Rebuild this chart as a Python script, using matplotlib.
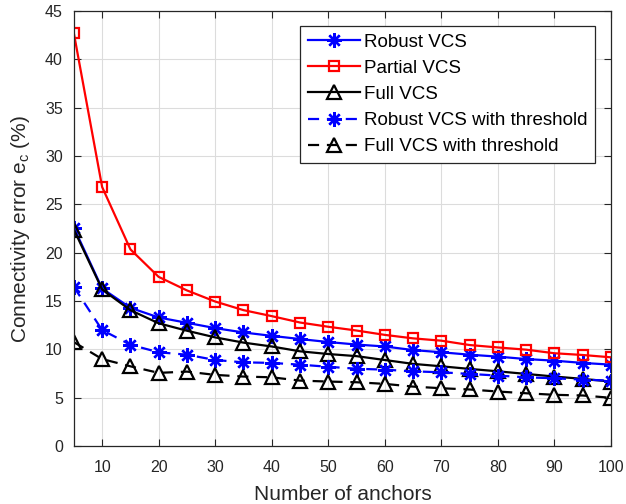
import matplotlib
matplotlib.use("Agg")
import matplotlib.pyplot as plt

plt.rcParams['font.family'] = ['Liberation Sans', 'DejaVu Sans']
plt.rcParams['mathtext.fontset'] = 'custom'
plt.rcParams['mathtext.rm'] = 'Liberation Sans'

# anchors on the x axis
anchors = [5, 10, 15, 20, 25, 30, 35, 40, 45, 50,
           55, 60, 65, 70, 75, 80, 85, 90, 95, 100]

# connectivity error in percent
robust = [22.6, 16.3, 14.3, 13.3, 12.75, 12.2, 11.75, 11.4, 11.07, 10.76,
          10.5, 10.3, 9.93, 9.7, 9.45, 9.25, 9.0, 8.83, 8.6, 8.42]
partial = [42.7, 26.8, 20.35, 17.5, 16.1, 14.95, 14.06, 13.44, 12.78, 12.34,
           11.95, 11.5, 11.14, 10.9, 10.45, 10.2, 9.97, 9.6, 9.42, 9.18]
full = [22.4, 16.2, 14.06, 12.7, 11.93, 11.24, 10.7, 10.3, 9.8, 9.52,
        9.3, 8.9, 8.5, 8.25, 7.98, 7.73, 7.46, 7.19, 6.95, 6.67]
robust_thr = [16.46, 12.0, 10.48, 9.7, 9.45, 8.9, 8.66, 8.6, 8.42, 8.2,
              8.0, 7.9, 7.73, 7.63, 7.46, 7.29, 7.11, 7.01, 6.87, 6.77]
full_thr = [10.75, 9.0, 8.25, 7.57, 7.7, 7.36, 7.19, 7.11, 6.77, 6.67,
            6.6, 6.43, 6.15, 5.98, 5.85, 5.64, 5.46, 5.3, 5.23, 4.99]

fig = plt.figure(figsize=(6.26, 5.04), dpi=100)
ax = fig.add_axes([0.118, 0.115, 0.858, 0.863])

asterisk = (8, 2, 0)
dash = (0, (5, 3.5))

ax.plot(anchors, robust, color='blue', lw=1.6, marker=asterisk, ms=10.5, mew=1.7,
        label='Robust VCS')
ax.plot(anchors, partial, color='red', lw=1.6, marker='s', ms=7.5, mew=1.6,
        mfc='none', label='Partial VCS')
ax.plot(anchors, full, color='black', lw=1.6, marker='^', ms=9.5, mew=1.6,
        mfc='none', label='Full VCS')
ax.plot(anchors, robust_thr, color='blue', lw=1.6, ls=dash, marker=asterisk,
        ms=10.5, mew=1.7, label='Robust VCS with threshold')
ax.plot(anchors, full_thr, color='black', lw=1.6, ls=dash, marker='^', ms=9.5,
        mew=1.6, mfc='none', label='Full VCS with threshold')

ax.set_xlim(5, 100)
ax.set_ylim(0, 45)
ax.set_xticks(range(10, 101, 10))
ax.set_yticks(range(0, 46, 5))
ax.grid(True, color='#dcdcdc', lw=0.8)
ax.set_axisbelow(True)
ax.tick_params(direction='in', top=True, right=True, labelsize=11.5,
               colors='#262626', length=5, width=0.8, pad=8)
ax.tick_params(axis='x', pad=10)
for s in ax.spines.values():
    s.set_color('#262626')
    s.set_linewidth(0.9)

ax.set_xlabel('Number of anchors', fontsize=15, color='#262626', labelpad=7)
ax.set_ylabel('Connectivity error e$_\\mathregular{c}$ (%)', fontsize=15,
              color='#262626', labelpad=9)

leg = ax.legend(loc='upper right', fontsize=13.5, handlelength=2.8,
                handletextpad=0.2, borderpad=0.4, labelspacing=0.48,
                borderaxespad=0, fancybox=False, framealpha=1,
                edgecolor='#262626', bbox_to_anchor=(0.970, 0.9655))
leg.get_frame().set_linewidth(0.9)

fig.savefig('out.png', dpi=100)
